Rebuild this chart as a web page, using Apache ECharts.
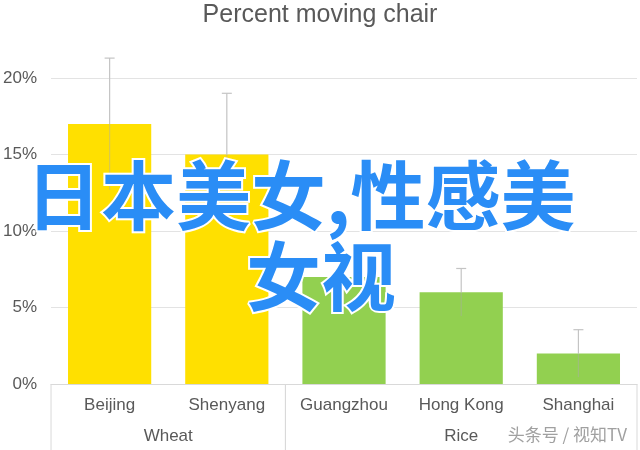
<!DOCTYPE html>
<html>
<head>
<meta charset="utf-8">
<script src="https://cdn.jsdelivr.net/npm/echarts@6/dist/echarts.min.js"></script>
<style>
html,body{margin:0;padding:0;background:#fff;}
#main{width:640px;height:450px;}
</style>
</head>
<body>
<div id="main"></div>
<script>
var cities = ['Beijing', 'Shenyang', 'Guangzhou', 'Hong Kong', 'Shanghai'];
var values = [17, 15, 7, 6, 2];
var errors = [4.3, 4, 1.5, 1.55, 1.55];
var cityGroup = [0, 0, 1, 1, 1];
var groupNames = ['Wheat', 'Rice'];
var groupStart = [0, 2];
var groupEnd = [2, 5];
var groupColors = ['#ffe000', '#92d050'];
var yTicks = [0, 5, 10, 15, 20];
var titleText = 'Percent moving chair';
var overlayLine1 = '日本美女,性感美';
var overlayLine2 = '女视';
var watermark = '头条号 / 视知TV';

var chart = echarts.init(document.getElementById('main'), null, {renderer: 'canvas'});

var FONT = 'Liberation Sans, Arial, sans-serif';
var barData = values.map(function (v, i) {
  return {value: v, itemStyle: {color: groupColors[cityGroup[i]]}};
});
var errData = values.map(function (v, i) {
  return [i, v - errors[i], v + errors[i], v];
});
var groupData = groupNames.map(function (g, i) {
  return [groupStart[i], groupEnd[i], g];
});

var option = {
  animation: false,
  title: {
    text: titleText,
    left: 'center',
    top: -2,
    textStyle: {color: '#595959', fontSize: 25, fontWeight: 'normal', fontFamily: FONT}
  },
  grid: {left: 50, right: 3, top: 78, bottom: 66, containLabel: false},
  xAxis: {
    type: 'category',
    data: cities,
    axisLine: {show: true, lineStyle: {color: '#d9d9d9', width: 1}},
    axisTick: {show: false},
    axisLabel: {color: '#595959', fontSize: 17, margin: 13, fontFamily: FONT}
  },
  yAxis: {
    type: 'value',
    min: yTicks[0],
    max: yTicks[yTicks.length - 1],
    interval: yTicks[1] - yTicks[0],
    axisLine: {show: false},
    axisTick: {show: false},
    axisLabel: {formatter: '{value}%', color: '#595959', fontSize: 17, margin: 14, fontFamily: FONT},
    splitLine: {lineStyle: {color: '#e3e3e3', width: 1}}
  },
  series: [
    {
      type: 'bar',
      data: barData,
      barWidth: '71%',
      z: 2
    },
    {
      type: 'custom',
      data: errData,
      z: 3,
      clip: false,
      renderItem: function (params, api) {
        var x = api.value(0);
        var lo = api.coord([x, api.value(1)]);
        var hi = api.coord([x, api.value(2)]);
        var mid = api.coord([x, api.value(3)]);
        var cap = 5;
        var st = {stroke: '#c4c4c4', lineWidth: 1.2};
        var stIn = {stroke: 'rgba(170,170,170,0.45)', lineWidth: 1.2};
        return {
          type: 'group',
          children: [
            {type: 'line', shape: {x1: mid[0], y1: mid[1], x2: hi[0], y2: hi[1]}, style: st},
            {type: 'line', shape: {x1: lo[0], y1: lo[1], x2: mid[0], y2: mid[1]}, style: stIn},
            {type: 'line', shape: {x1: hi[0] - cap, y1: hi[1], x2: hi[0] + cap, y2: hi[1]}, style: st}
          ]
        };
      }
    },
    {
      type: 'custom',
      data: groupData,
      z: 3,
      clip: false,
      renderItem: function (params, api) {
        var s = api.value(0), e = api.value(1);
        var band = api.size([1, 0])[0];
        var p0 = api.coord([s, 0]);
        var p1 = api.coord([e - 1, 0]);
        var xl = p0[0] - band / 2;
        var xr = p1[0] + band / 2;
        var y0 = p0[1];
        var st = {stroke: '#d9d9d9', lineWidth: 1};
        var children = [
          {type: 'line', shape: {x1: xl, y1: y0, x2: xl, y2: y0 + 70}, style: st},
          {type: 'line', shape: {x1: xr, y1: y0, x2: xr, y2: y0 + 70}, style: st},
          {type: 'text', style: {
            text: groupData[params.dataIndex][2],
            x: (xl + xr) / 2, y: y0 + 52,
            align: 'center', verticalAlign: 'middle',
            fill: '#595959', fontSize: 17, fontFamily: FONT
          }}
        ];
        return {type: 'group', children: children};
      }
    }
  ],
  graphic: [
    {
      type: 'text', z: 100, left: 24, top: 156,
      style: {
        text: overlayLine1,
        font: 'bold 75px "Noto Sans CJK SC"',
        fill: '#2a8df6', stroke: '#ffffff', lineWidth: 4
      }
    },
    {
      type: 'text', z: 100, left: 244, top: 237,
      style: {
        text: overlayLine2,
        font: 'bold 75px "Noto Sans CJK SC"',
        fill: '#2a8df6', stroke: '#ffffff', lineWidth: 4
      }
    },
    {
      type: 'text', z: 100, right: 12, bottom: 6,
      style: {
        text: watermark,
        font: '17px "Noto Sans CJK SC"',
        fill: '#a0a0a0', stroke: '#ffffff', lineWidth: 2
      }
    }
  ]
};
chart.setOption(option);
</script>
</body>
</html>
